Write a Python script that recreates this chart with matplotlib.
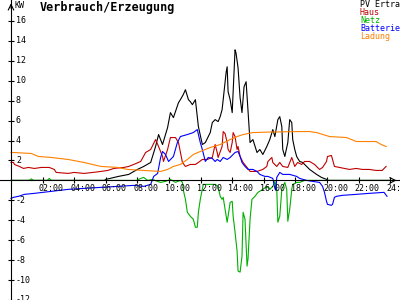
import matplotlib
matplotlib.use("Agg")
import matplotlib.pyplot as plt

# hours of day / kW
pv_t = [0.0, 5.9, 6.0, 6.8, 7.45, 8.0, 8.4, 8.84, 9.15, 9.34,
        9.59, 9.91, 10.09, 10.28, 10.6, 10.72, 10.9, 11.04, 11.23, 11.35,
        11.48, 11.67, 11.86, 12.11, 12.3, 12.61, 12.74, 12.92, 13.11, 13.24,
        13.36, 13.43, 13.62, 13.68, 13.74, 13.87, 14.0, 14.18, 14.24, 14.37,
        14.5, 14.62, 14.75, 14.88, 15.0, 15.13, 15.31, 15.57, 15.75, 15.94,
        16.19, 16.38, 16.57, 16.7, 16.89, 17.01, 17.14, 17.2, 17.33, 17.52,
        17.64, 17.77, 17.83, 17.96, 18.08, 18.27, 18.46, 18.71, 18.9, 19.34,
        19.65, 19.97, 20.1, 24.0]
pv_v = [0.0, 0.0, 0.1, 0.4, 0.6, 1.1, 1.4, 1.8, 3.4, 4.6,
        3.6, 5.3, 6.8, 6.3, 7.8, 8.1, 8.6, 9.1, 8.1, 7.9,
        7.6, 8.1, 5.4, 3.6, 3.8, 4.8, 5.8, 6.1, 5.9, 6.4,
        7.1, 8.1, 10.9, 11.4, 8.9, 8.1, 6.8, 13.1, 12.8, 11.3,
        8.3, 6.8, 9.4, 9.9, 7.0, 3.8, 4.1, 2.8, 3.1, 2.6,
        3.4, 4.1, 5.1, 4.4, 6.1, 6.4, 5.4, 3.1, 2.4, 3.8,
        6.1, 5.8, 4.1, 3.1, 2.4, 1.9, 1.8, 1.4, 1.1, 0.6,
        0.3, 0.1, 0.0, 0.0]

haus_t = [0.0, 0.16, 0.22, 0.53, 0.79, 1.1, 1.48, 1.92, 2.42, 2.74,
          2.86, 3.62, 3.99, 4.62, 5.19, 5.69, 6.13, 6.51, 7.14, 7.45,
          7.77, 8.21, 8.52, 8.84, 9.15, 9.34, 9.59, 9.65, 9.91, 10.09,
          10.41, 10.6, 10.85, 11.04, 11.35, 11.67, 11.86, 12.11, 12.42, 12.74,
          12.92, 13.05, 13.11, 13.36, 13.43, 13.55, 13.68, 13.74, 13.87, 14.0,
          14.06, 14.18, 14.31, 14.37, 14.5, 14.69, 14.94, 15.13, 15.57, 15.94,
          16.19, 16.26, 16.51, 16.57, 16.82, 17.01, 17.2, 17.52, 17.77, 17.96,
          18.14, 18.4, 18.58, 18.9, 19.21, 19.53, 19.72, 19.97, 20.03, 20.28,
          20.35, 20.47, 20.79, 21.42, 21.86, 22.23, 22.67, 23.11, 23.49, 23.74]
haus_v = [1.8, 1.8, 1.6, 1.4, 1.2, 1.3, 1.2, 1.3, 1.3, 1.1,
          0.8, 0.7, 0.8, 0.7, 0.8, 0.9, 1.0, 1.2, 1.3, 1.4,
          1.6, 1.9, 2.8, 3.1, 4.1, 3.4, 2.4, 1.9, 3.1, 4.3,
          4.3, 3.8, 1.8, 1.4, 1.6, 1.6, 1.8, 2.1, 2.1, 2.3,
          3.6, 2.8, 2.3, 3.4, 4.9, 4.7, 3.8, 3.1, 2.8, 3.8,
          4.8, 4.4, 3.1, 3.4, 2.4, 1.8, 1.3, 0.9, 0.9, 1.1,
          1.4, 1.9, 2.3, 1.8, 1.4, 1.8, 1.4, 1.3, 2.3, 1.4,
          1.8, 1.6, 1.9, 1.9, 1.6, 1.1, 1.3, 1.9, 2.4, 2.5,
          2.1, 1.4, 1.3, 1.1, 1.2, 1.1, 1.1, 1.0, 1.0, 1.4]

netz_t = [0.0, 1.16, 1.29, 1.42, 2.3, 2.42, 2.55, 7.96, 8.21, 8.4,
          8.65, 8.96, 9.28, 9.47, 9.78, 10.09, 10.41, 10.72, 10.85, 10.91,
          11.04, 11.16, 11.35, 11.54, 11.67, 11.79, 11.86, 11.98, 12.17, 12.61,
          12.92, 13.11, 13.24, 13.36, 13.43, 13.55, 13.68, 13.74, 13.87, 14.0,
          14.06, 14.18, 14.31, 14.37, 14.5, 14.62, 14.69, 14.81, 14.94, 15.0,
          15.13, 15.25, 15.44, 15.63, 15.94, 16.19, 16.38, 16.57, 16.7, 16.82,
          16.89, 17.01, 17.14, 17.33, 17.45, 17.52, 17.64, 17.77, 17.83, 18.08,
          18.27, 18.58, 24.0]
netz_v = [0.0, 0.0, 0.15, 0.0, 0.0, 0.2, 0.0, 0.0, 0.2, 0.3,
          0.0, 0.1, -0.1, -0.2, -0.1, 0.1, -0.2, 0.0, -0.2, -1.0,
          -1.9, -3.2, -3.6, -3.9, -4.7, -4.7, -3.2, -1.9, -0.4, -0.4,
          -0.4, -0.6, -1.6, -1.9, -1.7, -2.9, -4.2, -3.6, -2.2, -2.1,
          -3.6, -5.2, -7.1, -9.1, -9.2, -7.6, -3.2, -3.9, -8.6, -7.9,
          -3.9, -1.9, -1.6, -1.2, -0.9, -0.6, -0.9, -0.6, -0.1, -0.9,
          -4.2, -3.6, -0.9, -0.2, -0.9, -4.1, -2.9, -0.9, -0.4, -0.2,
          -0.2, 0.0, 0.0]

batt_t = [0.0, 0.16, 0.47, 0.85, 1.48, 2.55, 3.62, 4.62, 5.69, 6.76,
          7.77, 8.4, 8.84, 9.03, 9.28, 9.47, 9.59, 9.78, 9.97, 10.28,
          10.53, 10.72, 11.16, 11.54, 11.79, 11.98, 12.11, 12.3, 12.48, 12.74,
          12.92, 13.05, 13.24, 13.43, 13.68, 13.87, 14.18, 14.37, 14.5, 14.62,
          14.81, 15.0, 15.31, 15.57, 15.75, 16.07, 16.26, 16.57, 16.7, 16.76,
          16.82, 17.01, 17.2, 17.64, 18.08, 18.27, 18.71, 19.09, 19.53, 19.72,
          19.84, 19.97, 20.03, 20.28, 20.35, 20.47, 20.6, 20.97, 21.86, 22.67,
          23.61, 23.8]
batt_v = [-1.8, -1.7, -1.6, -1.4, -1.3, -1.1, -0.9, -0.8, -0.7, -0.6,
          -0.5, -0.6, -0.4, 0.4, 0.7, 2.3, 2.9, 2.6, 1.9, 2.4,
          3.8, 4.4, 4.6, 4.8, 5.1, 3.8, 3.1, 1.9, 2.3, 2.2,
          1.9, 2.1, 1.9, 2.3, 2.1, 2.3, 2.8, 2.9, 2.4, 1.8,
          1.4, 1.1, 1.1, 0.9, 0.6, 0.4, 0.4, 0.2, -0.8, -1.0,
          0.3, 0.8, 0.6, 0.6, 0.4, 0.2, 0.0, -0.1, -0.2, -0.6,
          -1.2, -2.1, -2.4, -2.5, -2.4, -1.7, -1.6, -1.5, -1.4, -1.3,
          -1.2, -1.6]

lad_t = [0.0, 0.16, 1.29, 1.73, 2.55, 3.62, 4.62, 5.69, 6.76, 7.39,
         8.4, 9.47, 9.91, 10.28, 10.72, 11.16, 11.54, 11.98, 12.61, 13.24,
         13.87, 14.31, 14.69, 15.31, 16.38, 18.27, 18.9, 19.34, 20.16, 21.23,
         21.86, 23.11, 23.43, 23.74]
lad_v = [2.8, 2.8, 2.7, 2.4, 2.3, 2.1, 1.8, 1.4, 1.3, 1.1,
         1.0, 0.9, 1.1, 1.4, 1.6, 2.1, 2.6, 2.9, 3.3, 3.6,
         4.1, 4.4, 4.6, 4.8, 4.85, 4.9, 4.9, 4.8, 4.4, 4.3,
         3.9, 3.9, 3.6, 3.4]

series = [
    ("PV Ertra", pv_t, pv_v, "black"),
    ("Haus", haus_t, haus_v, "#c00000"),
    ("Netz", netz_t, netz_v, "#00b000"),
    ("Batterie", batt_t, batt_v, "#0000ff"),
    ("Ladung", lad_t, lad_v, "#ff8000"),
]
x_ticks = list(range(2, 25, 2))
x_labels = ["%02d:00" % h for h in x_ticks]
y_ticks = [-12, -10, -8, -6, -4, -2, 2, 4, 6, 8, 10, 12, 14, 16]

mono = "DejaVu Sans Mono"

fig = plt.figure(figsize=(4, 3), dpi=100)
ax = fig.add_axes([0, 0, 1, 1])
ax.set_xlim(-11 / 15.8, 389 / 15.8)
ax.set_ylim(-11.9, 18.1)

for side in ("top", "right"):
    ax.spines[side].set_visible(False)
ax.spines["left"].set_position(("data", 0))
ax.spines["bottom"].set_position(("data", 0))
for side in ("left", "bottom"):
    ax.spines[side].set_linewidth(0.8)
ax.set_xticks(x_ticks)
ax.set_yticks(y_ticks)
ax.tick_params(direction="inout", length=5, width=0.8,
               labelbottom=False, labelleft=False)

for h, lab in zip(x_ticks, x_labels):
    ax.annotate(lab, (h, 0), xytext=(-4, -4), textcoords="offset pixels",
                ha="left", va="top", fontsize=6, family=mono,
                annotation_clip=False)
for v in y_ticks:
    ax.annotate(str(v), (0, v), xytext=(5, 0), textcoords="offset pixels",
                ha="left", va="center", fontsize=6, family=mono,
                annotation_clip=False)

# axis arrows
ax.annotate("", xy=(0, 18.05), xytext=(0, 17.0),
            arrowprops=dict(arrowstyle="->", lw=0.8), annotation_clip=False)
ax.annotate("", xy=(24.58, 0), xytext=(24.0, 0),
            arrowprops=dict(arrowstyle="->", lw=0.8), annotation_clip=False)

for name, t, v, c in series:
    ax.plot(t, v, color=c, lw=0.8)

fig.text(14 / 400, 1 - 5 / 300, "KW", fontsize=6, family=mono, va="center")
fig.text(40 / 400, 1 - 8 / 300, "Verbrauch/Erzeugung", fontsize=8.5,
         family=mono, weight="bold", va="center")
for i, (name, t, v, c) in enumerate(series):
    fig.text(360 / 400, 1 - (4.5 + 8 * i) / 300, name, color=c,
             fontsize=6, family=mono, va="center")

fig.savefig("out.png", dpi=100)
